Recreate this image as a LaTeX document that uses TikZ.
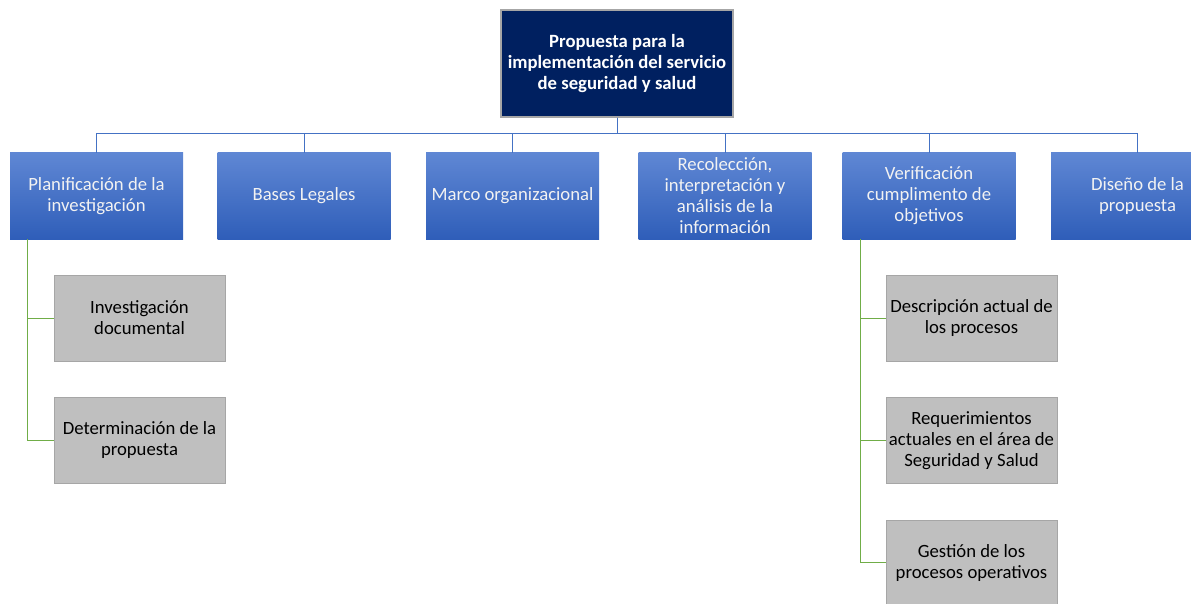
\documentclass[tikz,border=0pt]{standalone}
\usepackage{fontspec}
\setmainfont{Carlito}
\usetikzlibrary{positioning}
\definecolor{navy}{HTML}{002060}
\definecolor{bluetop}{HTML}{5F87D4}
\definecolor{bluebot}{HTML}{2F5EB9}
\definecolor{busline}{HTML}{4472C4}
\definecolor{greyfill}{HTML}{BFBFBF}
\definecolor{greyedge}{HTML}{A6A6A6}
\definecolor{greenline}{HTML}{70AD47}
\tikzset{
  rootbox/.style={draw=greyedge, line width=1.2pt, fill=navy, text=white,
    font=\fontsize{18.7}{21}\selectfont\bfseries, align=center,
    minimum width=232pt, minimum height=107pt, inner sep=0pt},
  phasebox/.style={top color=bluetop, bottom color=bluebot, text=white!95!black,
    font=\fontsize{18.7}{21}\selectfont, align=center,
    minimum width=173pt, minimum height=86pt, inner sep=0pt},
  taskbox/.style={draw=greyedge, fill=greyfill, text=black,
    font=\fontsize{18.7}{21}\selectfont, align=center,
    minimum width=171pt, minimum height=86pt, inner sep=0pt},
  bus/.style={draw=busline, line width=1pt},
  branch/.style={draw=greenline, line width=1pt}
}
\begin{document}
\begin{tikzpicture}[x=1pt,y=-1pt]
  \useasboundingbox (0,0) rectangle (1191,604);
  \clip (0,0) rectangle (1191,604);
  % root
  \node[rootbox] (root) at (617,63.5)
    {Propuesta para la\\implementación del servicio\\de seguridad y salud};
  % phases
  \node[phasebox] (pl) at (96.5,196) {Planificación de la\\investigación};
  \node[phasebox] (bl) at (304,196) {Bases Legales};
  \node[phasebox] (mo) at (512.5,196) {Marco organizacional};
  \node[phasebox] (ri) at (725,196)
    {Recolección,\\interpretación y\\análisis de la\\información};
  \node[phasebox] (vc) at (929,196) {Verificación\\cumplimento de\\objetivos};
  \node[phasebox] (dp) at (1137.5,196) {Diseño de la\\propuesta};
  % tasks
  \node[taskbox] (inv) at (139.5,318) {Investigación\\documental};
  \node[taskbox, below=36pt of inv] (det) {Determinación de la\\propuesta};
  \node[taskbox] (des) at (971.5,318) {Descripción actual de\\los procesos};
  \node[taskbox, below=36pt of des] (req)
    {Requerimientos\\actuales en el área de\\Seguridad y Salud};
  \node[taskbox, below=36pt of req] (ges) {Gestión de los\\procesos operativos};
  % connectors
  \foreach \n in {pl,bl,mo,ri,vc,dp}
    \draw[bus] (root.south) -- ++(0,16) -| (\n.north);
  \foreach \t in {inv,det}
    \draw[branch] (pl.south west) ++(18,0) |- (\t.west);
  \foreach \t in {des,req,ges}
    \draw[branch] (vc.south west) ++(18,0) |- (\t.west);
\end{tikzpicture}
\end{document}
